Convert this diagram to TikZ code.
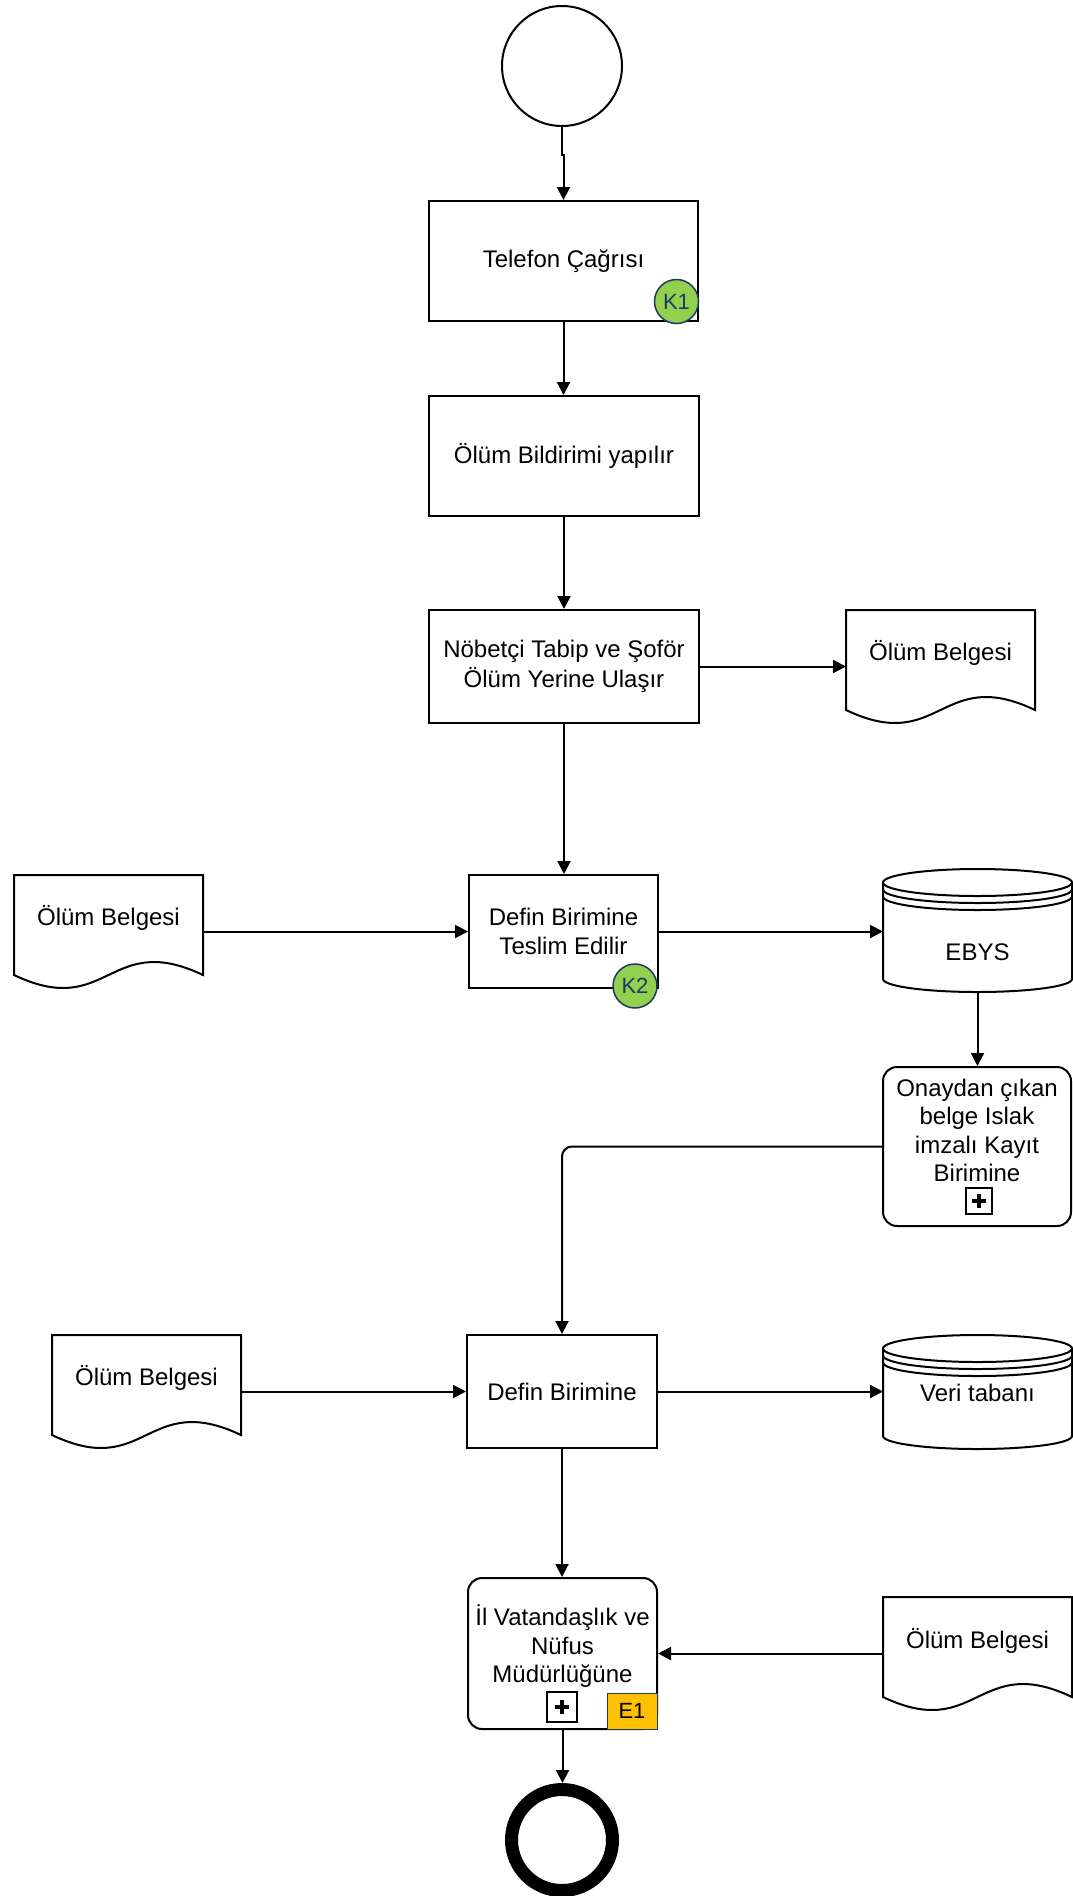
\documentclass[tikz,border=0pt]{standalone}
\usepackage{fontspec}
\setmainfont{Liberation Sans}
\usetikzlibrary{arrows.meta,calc}
\definecolor{kgreen}{HTML}{92D050}
\definecolor{navy}{HTML}{1F3864}
\definecolor{eorange}{HTML}{FFC000}
\newcommand\docshape[1]{%
  \draw[shp] (#1.south west) -- (#1.north west) -- (#1.north east) -- (#1.south east)
    .. controls ($(#1.south)+(0,45)$) and ($(#1.south)+(0,-45)$) .. (#1.south west) -- cycle;}
\newcommand\cylshape[1]{%
  \draw[shp] ($(#1.north west)+(0,-13.5)$) -- ($(#1.south west)+(0,13)$)
    arc[start angle=180,end angle=360,x radius=94.5,y radius=13] -- ($(#1.north east)+(0,-13.5)$);
  \draw[shp] ($(#1.north)+(0,-13.5)$) ellipse [x radius=94.5, y radius=13.5];
  \draw[line width=2pt] ($(#1.north west)+(0,-20.5)$) arc[start angle=180,end angle=360,x radius=94.5,y radius=13.5];
  \draw[line width=2pt] ($(#1.north west)+(0,-27.5)$) arc[start angle=180,end angle=360,x radius=94.5,y radius=13.5];}
\begin{document}
\begin{tikzpicture}[x=1pt,y=1pt,
  every node/.style={font=\fontsize{24}{28.5}\selectfont},
  shp/.style={draw=black, line width=2pt, fill=white},
  box/.style={shp, rectangle, inner sep=0pt, align=center},
  rbox/.style={shp, rectangle, rounded corners=14pt, inner sep=0pt},
  frame/.style={rectangle, inner sep=0pt, outer sep=0pt, draw=none},
  txt/.style={align=center, inner sep=0pt},
  arr/.style={line width=2pt, -{Triangle[length=13pt,width=13pt]}},
  kcirc/.style={circle, draw=navy, line width=1.5pt, fill=kgreen, text=navy, inner sep=0pt,
    minimum size=44pt, font=\fontsize{22}{24}\selectfont},
  plusbox/.style={draw=black, line width=1.5pt, fill=white, minimum size=#1, inner sep=0pt,
    path picture={
      \draw[line width=4pt] ([xshift=-7pt]path picture bounding box.center) -- ([xshift=7pt]path picture bounding box.center);
      \draw[line width=4pt] ([yshift=-7pt]path picture bounding box.center) -- ([yshift=7pt]path picture bounding box.center);}},
]
\fill[white] (0,0) rectangle (1073,-1896);
\useasboundingbox (0,0) rectangle (1073,-1896);

% start
\node[circle, draw, line width=2pt, minimum size=120pt, inner sep=0pt] (start) at (562,-66) {};

% main column
\node[box, minimum width=269pt, minimum height=120pt] (tel) at (563.5,-261) {Telefon Çağrısı};
\node[kcirc] (k1) at (676.5,-301.5) {K1};
\node[box, minimum width=270pt, minimum height=120pt] (bild) at (564,-456) {Ölüm Bildirimi yapılır};
\node[box, minimum width=270pt, minimum height=113pt, font=\fontsize{24}{30}\selectfont] (nob) at (564,-666.5) {Nöbetçi Tabip ve Şoför\\Ölüm Yerine Ulaşır};

% document 1
\node[frame, minimum width=189pt, minimum height=100pt] (doc1) at (940.5,-660) {};
\docshape{doc1}
\node[txt] (doc1t) at (940.5,-653) {Ölüm Belgesi};

% Defin 1
\node[box, minimum width=189pt, minimum height=113pt] (def1) at (563.5,-931.5) {Defin Birimine\\Teslim Edilir};
\node[kcirc] (k2) at (635,-986) {K2};

% document 2
\node[frame, minimum width=189pt, minimum height=100pt] (doc2) at (108.5,-925) {};
\docshape{doc2}
\node[txt] (doc2t) at (108.5,-918) {Ölüm Belgesi};

% EBYS
\node[frame, minimum width=189pt, minimum height=123pt] (ebys) at (977.5,-930.5) {};
\cylshape{ebys}
\node[txt] (ebyst) at (977.5,-952) {EBYS};

% Onay
\node[rbox, minimum width=188pt, minimum height=159pt] (onay) at (977,-1146.5) {};
\node[txt] (onayt) at (977,-1130.5) {Onaydan çıkan\\belge Islak\\imzalı Kayıt\\Birimine};
\node[plusbox=26pt] (onayp) at (979,-1201) {};

% Defin 2
\node[box, minimum width=190pt, minimum height=113pt] (def2) at (562,-1391.5) {Defin Birimine};

% document 3
\node[frame, minimum width=189pt, minimum height=100pt] (doc3) at (146.5,-1385) {};
\docshape{doc3}
\node[txt] (doc3t) at (146.5,-1378) {Ölüm Belgesi};

% Veri tabani
\node[frame, minimum width=189pt, minimum height=114pt] (veri) at (977.5,-1392) {};
\cylshape{veri}
\node[txt] (verit) at (977.5,-1393) {Veri tabanı};

% Il
\node[rbox, minimum width=189pt, minimum height=151pt] (il) at (562.5,-1653.5) {};
\node[txt] (ilt) at (562.5,-1646.5) {İl Vatandaşlık ve\\Nüfus\\Müdürlüğüne};
\node[plusbox=30pt] (ilp) at (562,-1707) {};
\node[draw=navy, line width=1pt, fill=eorange, minimum width=50pt, minimum height=36pt, inner sep=0pt,
  font=\fontsize{22}{24}\selectfont] (e1) at (632,-1711) {E1};

% document 4
\node[frame, minimum width=189pt, minimum height=100pt] (doc4) at (977.5,-1647) {};
\docshape{doc4}
\node[txt] (doc4t) at (977.5,-1641) {Ölüm Belgesi};

% end
\node[circle, draw, line width=13pt, minimum size=101pt, inner sep=0pt] (end) at (562,-1840) {};

% connectors
\draw[arr] (start.south) -- ++(0,-28) -| (tel.north);
\draw[arr] (tel.south) -- (tel.south |- bild.north);
\draw[arr] (bild.south) -- (bild.south |- nob.north);
\draw[arr] (nob.east) -- (nob.east -| doc1.west);
\draw[arr] (nob.south) -- (nob.south |- def1.north);
\draw[arr] (doc2.east |- def1.west) -- (def1.west);
\draw[arr] (def1.east) -- (def1.east -| ebys.west);
\draw[arr] (ebys.south) -- (ebys.south |- onay.north);
\draw[arr, rounded corners=10pt] (onay.west) -| (def2.north);
\draw[arr] (doc3.east |- def2.west) -- (def2.west);
\draw[arr] (def2.east) -- (def2.east -| veri.west);
\draw[arr] (def2.south) -- (def2.south |- il.north);
\draw[arr] (doc4.west |- il.east) -- (il.east);
\draw[arr] (il.south) -- (il.south |- end.north);
\end{tikzpicture}
\end{document}
